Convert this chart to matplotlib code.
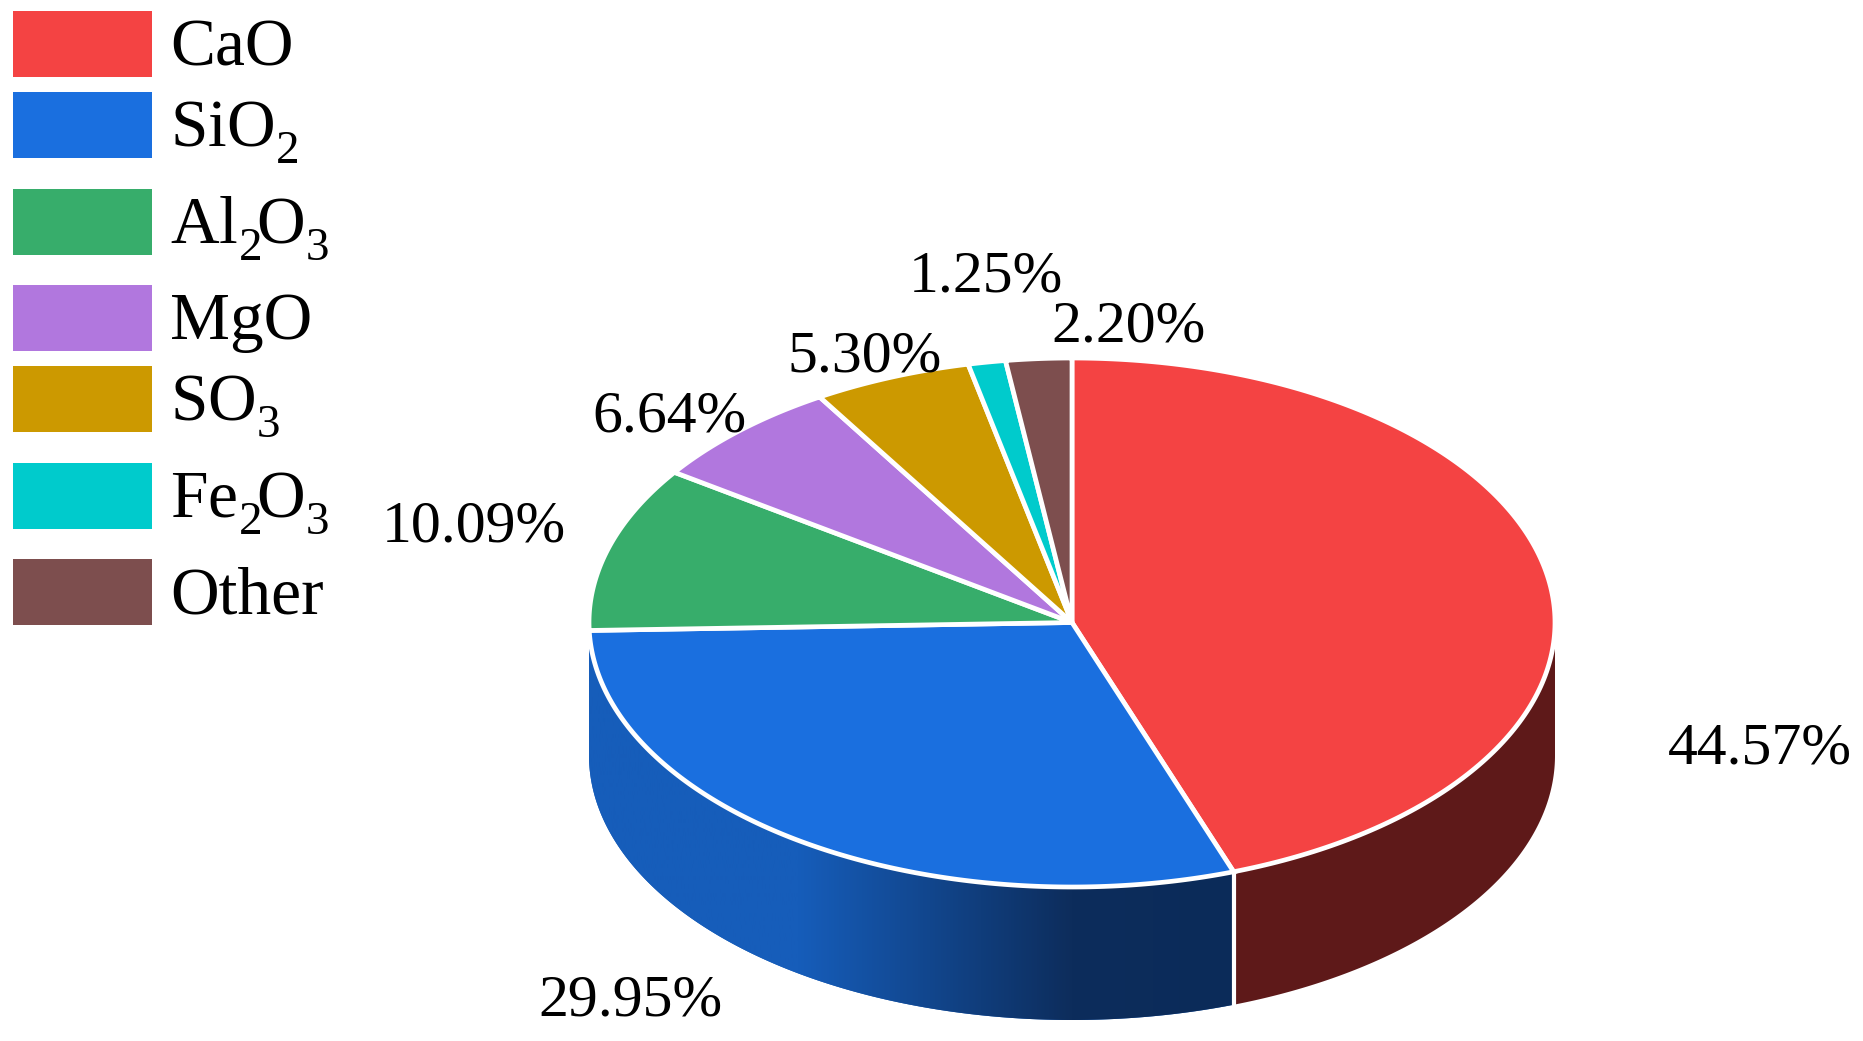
import numpy as np
import matplotlib
matplotlib.use('Agg')
import matplotlib.pyplot as plt
from matplotlib import _mathtext
from matplotlib.colors import LinearSegmentedColormap
from matplotlib.patches import Polygon, Rectangle

plt.rcParams['font.family'] = ['Liberation Serif', 'DejaVu Serif']
plt.rcParams['mathtext.fontset'] = 'custom'
plt.rcParams['mathtext.rm'] = 'Liberation Serif'
# subscripts sit lower and tighter in the original
_mathtext.FontConstantsBase.sub1 = 0.48
_mathtext.FontConstantsBase.script_space = -0.15

# %% data
names = ['CaO', r'SiO$_2$', r'Al$_2$O$_3$', 'MgO', r'SO$_3$', r'Fe$_2$O$_3$', 'Other']
shares = [44.57, 29.95, 10.09, 6.64, 5.30, 1.25, 2.20]
top_colors = ['#F44343', '#1A6FDF', '#37AD6B', '#B177DE', '#CC9900', '#00CBCC', '#7D4E4E']
wall_red = '#5E1919'
# label centres, in pixels
label_x = [1760, 630, 474, 669, 865, 986, 1128]
label_y = [749, 1001, 528, 418, 358, 277, 327]
# legend rows: top of each swatch, in pixels
legend_top = [11, 92, 189, 285, 366, 463, 559]

# pie geometry, in pixels
cx, cy, rx, ry, depth = 1072, 622.5, 483, 264.5, 133


def rim(a, b, n=200):
    # points on the top ellipse, angles clockwise from 12 o'clock
    t = np.radians(np.linspace(a, b, n))
    return cx + rx * np.sin(t), cy + ry * np.cos(t) * -1


fig = plt.figure(figsize=(18.63, 10.41), dpi=100)
ax = fig.add_axes([0, 0, 1, 1])

edges = np.concatenate([[0], np.cumsum(shares)]) * 3.6

# %% side wall, only the front half can be seen: red, then blue up to the far left
x, y = rim(90, edges[1])
ax.add_patch(Polygon(np.r_[np.c_[x, y], np.c_[x[::-1], y[::-1] + depth]], closed=True,
                     fc=wall_red, ec='none', zorder=1))

x, y = rim(edges[1], 270)
wall = Polygon(np.r_[np.c_[x, y], np.c_[x[::-1], y[::-1] + depth]], closed=True,
               fc='#165DBA', ec='none', zorder=1)
ax.add_patch(wall)
# the blue wall fades to navy towards the front
cmap = LinearSegmentedColormap.from_list(
    'wall', [(0, '#165DBA'), (0.328, '#165DBA'), (0.75, '#0D2D5C'), (1, '#0B2B59')])
im = ax.imshow(np.linspace(0, 1, 512)[None, :], cmap=cmap, aspect='auto',
               extent=[x.min() - 3, x.max(), 1041, 0], zorder=1.5)
im.set_clip_path(wall)

# white seam between the two walls
x, y = rim(edges[1], edges[1], 1)
ax.plot([x[0], x[0]], [y[0], y[0] + depth], color='white', lw=3, zorder=2,
        solid_capstyle='butt')

# %% top face
for i in range(len(shares)):
    x, y = rim(edges[i], edges[i + 1])
    xy = np.r_[[[cx, cy]], np.c_[x, y]]
    ax.add_patch(Polygon(xy, closed=True, fc=top_colors[i], ec='white', lw=3.4,
                         joinstyle='miter', zorder=3))

for i in range(len(shares)):
    ax.text(label_x[i], label_y[i], '%.2f%%' % shares[i], fontsize=43, ha='center',
            va='center', color='black', zorder=4)

# %% legend, rows are unevenly spaced in the original so placed by hand
for i in range(len(names)):
    ax.add_patch(Rectangle((13, legend_top[i]), 139, 66, fc=top_colors[i], ec='none'))
    ax.text(170, legend_top[i] + 54, names[i], fontsize=48.5, ha='left', va='baseline')

ax.set_xlim(0, 1863)
ax.set_ylim(1041, 0)
ax.axis('off')
fig.savefig('out.png', dpi=100, facecolor='white')
